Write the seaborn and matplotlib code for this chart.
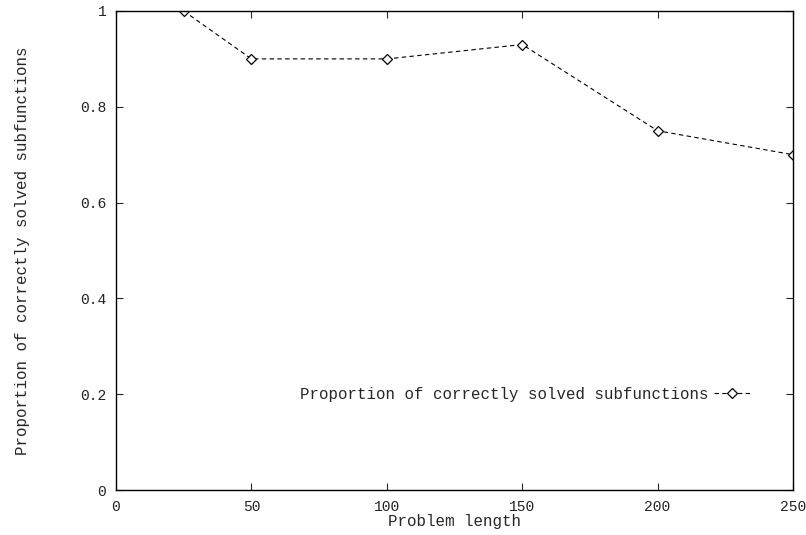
import matplotlib
matplotlib.use("Agg")
import matplotlib.pyplot as plt
import seaborn as sns
import pandas as pd

problem_length = [25, 50, 100, 150, 200, 250]
proportion = [1.0, 0.9, 0.9, 0.93, 0.75, 0.70]
series_name = "Proportion of correctly solved subfunctions"
x_ticks = [0, 50, 100, 150, 200, 250]
y_ticks = [0, 0.2, 0.4, 0.6, 0.8, 1.0]
y_tick_labels = ["0", "0.2", "0.4", "0.6", "0.8", "1"]

sns.set_style("ticks")
plt.rcParams['font.family'] = ['Liberation Mono', 'DejaVu Sans']

df = pd.DataFrame({"x": problem_length, "y": proportion})

fig = plt.figure(figsize=(8.06, 5.35), dpi=100)
ax = fig.add_axes([116/806, 1 - 490/535, (793-116)/806, (490-11)/535])
sns.lineplot(data=df, x="x", y="y", ax=ax, color="black", linestyle=(0, (4, 3)),
             linewidth=0.8, marker="D", markersize=5, markerfacecolor="white",
             markeredgecolor="black", markeredgewidth=0.9, label=series_name)

ax.set_xlim(0, 250)
ax.set_ylim(0, 1)
ax.set_xticks(x_ticks)
ax.set_xticklabels([str(v) for v in x_ticks], fontsize=10.5)
ax.set_yticks(y_ticks)
ax.set_yticklabels(y_tick_labels, fontsize=10.5)
ax.tick_params(direction="in", top=True, right=True, length=5, width=0.8, pad=7,
               labelcolor="#222222")
for s in ax.spines.values():
    s.set_linewidth(1.0)
    s.set_color("black")
ax.set_xlabel("Problem length", fontsize=11.4, labelpad=0)
ax.set_ylabel(series_name, fontsize=11.4, labelpad=36)

leg = ax.legend(loc="center right", bbox_to_anchor=(0.957, 0.2), frameon=False,
                markerfirst=False, fontsize=11.3, handlelength=2.3, handletextpad=0.3)

fig.savefig("out.png", dpi=100)
